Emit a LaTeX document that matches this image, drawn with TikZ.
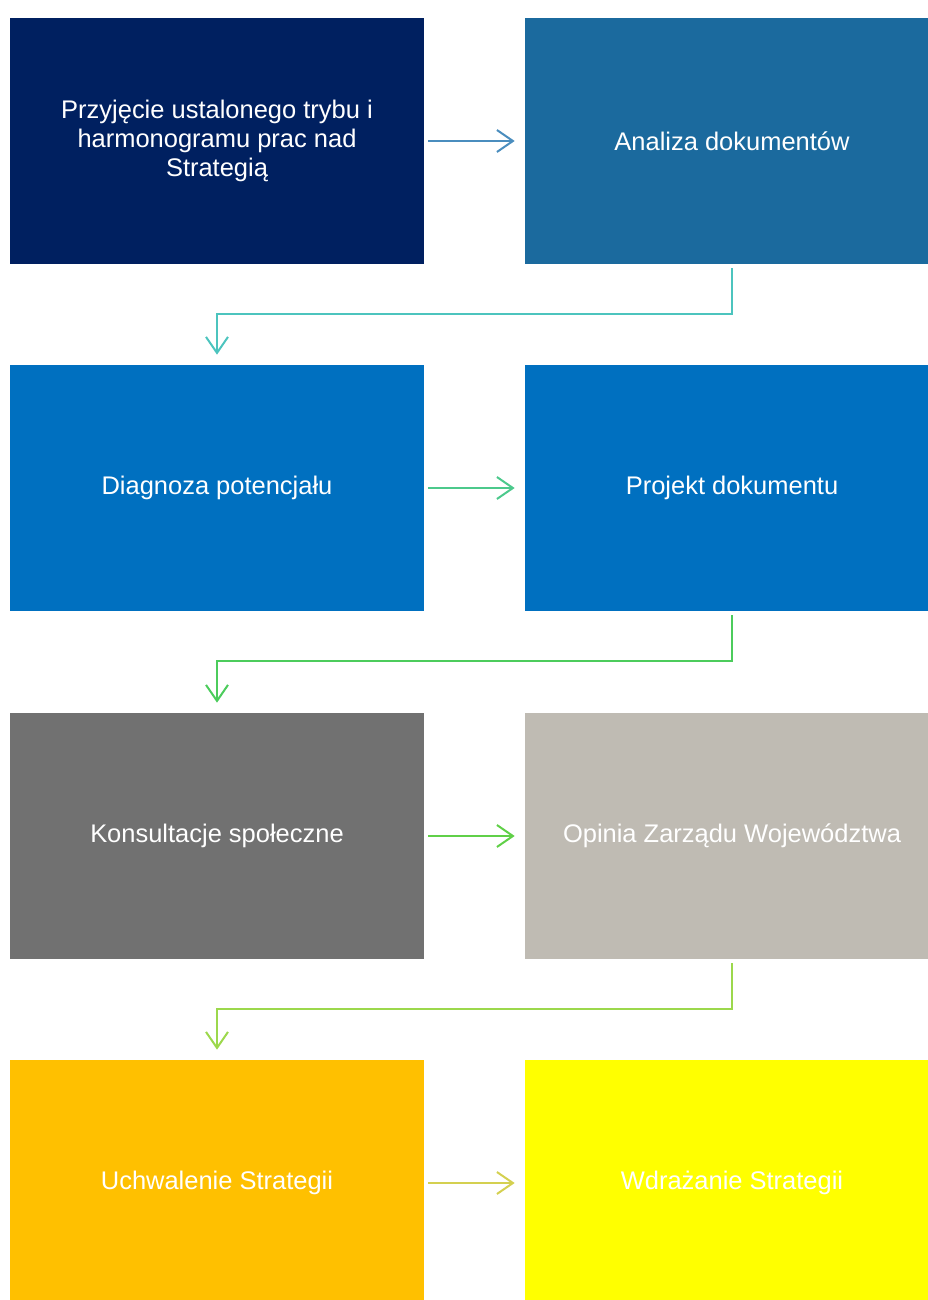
\documentclass[tikz,border=0pt]{standalone}
\usepackage{fontspec}
\setmainfont{Liberation Sans}
\usetikzlibrary{arrows.meta}

\definecolor{granat}{HTML}{002060}
\definecolor{stalowy}{HTML}{1B6A9E}
\definecolor{niebieski}{HTML}{0070C0}
\definecolor{szary}{HTML}{717171}
\definecolor{bez}{HTML}{BFBBB3}
\definecolor{zloty}{HTML}{FFC000}
\definecolor{zolty}{HTML}{FFFF00}
\definecolor{strz1}{HTML}{4A8DBE}
\definecolor{strz2}{HTML}{4CC4BE}
\definecolor{strz3}{HTML}{4CC98C}
\definecolor{strz4}{HTML}{4CCC5C}
\definecolor{strz5}{HTML}{60D048}
\definecolor{strz6}{HTML}{9CD84C}
\definecolor{strz7}{HTML}{D4D050}

\begin{document}
\begin{tikzpicture}[x=0.02cm, y=-0.02cm,
		etap/.style={minimum width=8.28cm, minimum height=4.92cm, inner sep=0pt, text=white, align=center, font=\fontsize{14.5}{16.5}\selectfont},
		strzalka/.style={line width=0.04cm, -{Straight Barb[length=0.32cm, width=0.44cm]}, shorten <=0.08cm, shorten >=0.2cm}]
		\useasboundingbox (0,0) rectangle (927,1300);

		\node[etap, fill=granat] (przyjecie) at (217,141) {Przyjęcie ustalonego trybu i\\harmonogramu prac nad\\Strategią};
		\node[etap, fill=stalowy] (analiza) at (732,141) {Analiza dokumentów};
		\node[etap, fill=niebieski] (diagnoza) at (217,488) {Diagnoza potencjału};
		\node[etap, fill=niebieski] (projekt) at (732,488) {Projekt dokumentu};
		\node[etap, fill=szary] (konsultacje) at (217,836) {Konsultacje społeczne};
		\node[etap, fill=bez] (opinia) at (732,836) {Opinia Zarządu Województwa};
		\node[etap, fill=zloty] (uchwalenie) at (217,1183) {Uchwalenie Strategii};
		\node[etap, fill=zolty] (wdrazanie) at (732,1183) {Wdrażanie Strategii};

		\draw[strzalka, strz1] (przyjecie) -- (analiza);
		\draw[strzalka, strz2] (analiza.south) -- ++(0,-1cm) -| (diagnoza.north);
		\draw[strzalka, strz3] (diagnoza) -- (projekt);
		\draw[strzalka, strz4] (projekt.south) -- ++(0,-1cm) -| (konsultacje.north);
		\draw[strzalka, strz5] (konsultacje) -- (opinia);
		\draw[strzalka, strz6] (opinia.south) -- ++(0,-1cm) -| (uchwalenie.north);
		\draw[strzalka, strz7] (uchwalenie) -- (wdrazanie);
	\end{tikzpicture}
\end{document}
